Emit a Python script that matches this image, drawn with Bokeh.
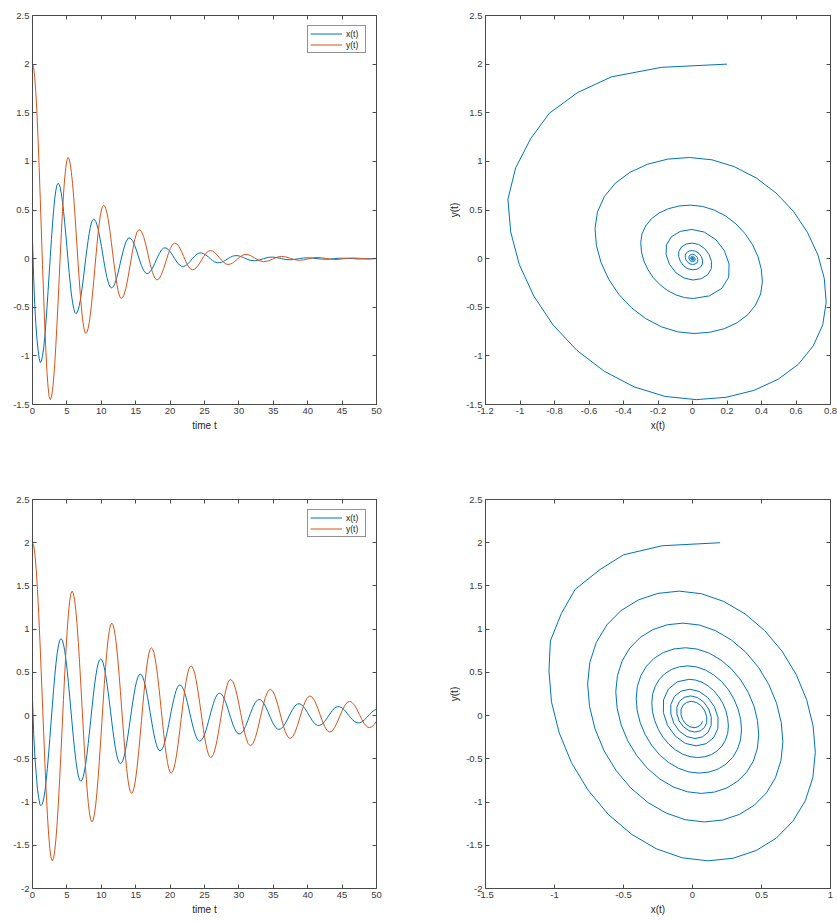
from bokeh.plotting import figure
from bokeh.models import Range1d, LinearAxis, FixedTicker, Legend, LegendItem
from bokeh.layouts import column, row
from bokeh.embed import file_html
from bokeh.resources import INLINE

# ---------------- data ----------------
# top pair of panels (strongly damped)
t_top = [0.00, 0.16, 0.32, 0.48, 0.65, 0.81, 0.97, 1.13, 1.29, 1.45, 1.62, 1.78, 1.94, 2.10, 2.26, 2.42,
         2.59, 2.75, 2.91, 3.07, 3.23, 3.39, 3.55, 3.72, 3.88, 4.04, 4.20, 4.36, 4.52, 4.68, 4.85, 5.01,
         5.17, 5.33, 5.49, 5.65, 5.82, 5.98, 6.14, 6.30, 6.46, 6.62, 6.79, 6.95, 7.11, 7.27, 7.43, 7.59,
         7.75, 7.92, 8.08, 8.24, 8.40, 8.56, 8.72, 8.89, 9.05, 9.21, 9.37, 9.53, 9.69, 9.85, 10.02, 10.18,
         10.34, 10.50, 10.66, 10.82, 10.99, 11.15, 11.31, 11.47, 11.63, 11.79, 11.96, 12.12, 12.28, 12.44,
         12.60, 12.76, 12.92,
         13.25, 13.57, 13.89, 14.22, 14.54, 14.86, 15.19, 15.51, 15.83, 16.16, 16.48, 16.80, 17.12, 17.45,
         17.77, 18.09, 18.42, 18.74, 19.06, 19.39, 19.71, 20.03, 20.36, 20.68, 21.00, 21.33, 21.65, 21.97,
         22.29, 22.62, 22.94, 23.26, 23.59, 23.91, 24.23, 24.56, 24.88, 25.20, 25.53, 25.85, 26.17, 26.49,
         26.82, 27.14, 27.46, 27.79, 28.11, 28.43, 28.76, 29.08, 29.40, 29.73, 30.05, 30.37, 30.70, 31.02,
         31.66, 32.31, 32.96, 33.60, 34.25, 34.90, 35.54, 36.19, 36.83, 37.48, 38.13, 38.77, 39.42, 40.06,
         40.71, 41.36, 42.00, 42.65, 43.30, 43.94, 44.59, 45.23, 45.88, 46.53, 47.17, 47.82, 48.47, 49.11,
         49.76, 50.00]
x_top = [0.20, -0.18, -0.47, -0.665, -0.83, -0.938, -1.025, -1.07, -1.054, -1.004, -0.920, -0.808, -0.669, -0.511, -0.338, -0.159,
         0.022, 0.195, 0.356, 0.497, 0.614, 0.700, 0.755, 0.775, 0.764, 0.727, 0.666, 0.585, 0.484, 0.369, 0.243, 0.113,
         -0.018, -0.144, -0.260, -0.363, -0.448, -0.511, -0.551, -0.565, -0.557, -0.530, -0.486, -0.427, -0.354, -0.271, -0.180, -0.086,
         0.009, 0.100, 0.185, 0.259, 0.320, 0.366, 0.395, 0.405, 0.399, 0.380, 0.348, 0.305, 0.252, 0.192, 0.125, 0.057,
         -0.012, -0.079, -0.140, -0.194, -0.238, -0.271, -0.293, -0.300, -0.296, -0.282, -0.258, -0.227, -0.188, -0.144, -0.096, -0.046,
         0.005,
         0.098, 0.170, 0.210,
         0.212, 0.185, 0.135, 0.068, -0.004, -0.071, -0.123, -0.151,
         -0.153, -0.133, -0.097, -0.049, 0.003, 0.051, 0.089, 0.109,
         0.110, 0.096, 0.070, 0.035, -0.002, -0.037, -0.064, -0.079,
         -0.080, -0.070, -0.051, -0.026, 0.002, 0.027, 0.047, 0.058,
         0.058, 0.051, 0.037, 0.019, -0.001, -0.020, -0.034, -0.042,
         -0.042, -0.037, -0.027, -0.014, 0.001, 0.014, 0.025, 0.030,
         0.031, 0.027, 0.019, 0.010, -0.001,
         -0.018, -0.022, -0.014, 0.000, 0.013, 0.016, 0.010, 0.000, -0.009, -0.012, -0.007, 0.000,
         0.007, 0.008, 0.005, 0.000, -0.005, -0.006, -0.004, 0.000, 0.004, 0.004, 0.003, 0.000,
         -0.003, -0.003, -0.002, 0.000, 0.002, 0.002]
y_top = [2.0, 1.967, 1.869, 1.709, 1.495, 1.233, 0.935, 0.611, 0.275, -0.061, -0.385, -0.683, -0.945, -1.159, -1.319, -1.417,
         -1.45, -1.426, -1.355, -1.240, -1.086, -0.897, -0.681, -0.448, -0.205, 0.038, 0.271, 0.487, 0.675, 0.830, 0.945, 1.016,
         1.04, 1.023, 0.971, 0.887, 0.775, 0.638, 0.481, 0.311, 0.135, -0.041, -0.211, -0.368, -0.505, -0.617, -0.701, -0.753,
         -0.77, -0.757, -0.720, -0.659, -0.577, -0.477, -0.363, -0.239, -0.110, 0.019, 0.143, 0.257, 0.357, 0.439, 0.500, 0.537,
         0.55, 0.541, 0.513, 0.469, 0.410, 0.337, 0.254, 0.164, 0.070, -0.024, -0.114, -0.197, -0.269, -0.329, -0.373, -0.401,
         -0.41,
         -0.383, -0.306, -0.191, -0.055, 0.081, 0.196, 0.273,
         0.30, 0.280, 0.224, 0.140, 0.040, -0.060, -0.144, -0.200,
         -0.22, -0.206, -0.164, -0.103, -0.030, 0.043, 0.104, 0.146,
         0.16, 0.150, 0.120, 0.075, 0.023, -0.030, -0.075, -0.105,
         -0.115, -0.108, -0.086, -0.054, -0.016, 0.022, 0.054, 0.075,
         0.083, 0.078, 0.062, 0.039, 0.012, -0.016, -0.039, -0.055,
         -0.060, -0.056, -0.045, -0.028, -0.008, 0.012, 0.029, 0.040,
         0.044,
         0.033, 0.006, -0.021, -0.032, -0.024, -0.005, 0.015, 0.023, 0.017, 0.003, -0.011,
         -0.017, -0.013, -0.003, 0.008, 0.012, 0.009, 0.002, -0.006, -0.009, -0.007, -0.001,
         0.004, 0.0065, 0.005, 0.001, -0.003, -0.0047, -0.001, 0.0]

# bottom pair of panels (weakly damped)
t_bot = [0.00, 0.18, 0.36, 0.54, 0.72, 0.90, 1.08, 1.26, 1.44, 1.62, 1.80, 1.98, 2.16, 2.34, 2.52, 2.70,
         2.88, 3.06, 3.24, 3.42, 3.60, 3.78, 3.96, 4.14, 4.32, 4.50, 4.68, 4.86, 5.04, 5.22, 5.40, 5.58,
         5.76, 5.94, 6.12, 6.30, 6.48, 6.66, 6.84, 7.02, 7.20, 7.38, 7.56, 7.74, 7.92, 8.10, 8.28, 8.46,
         8.64, 8.82, 9.00, 9.18, 9.36, 9.54, 9.72, 9.90, 10.08, 10.26, 10.44, 10.62, 10.80, 10.98, 11.16, 11.34,
         11.52, 11.70, 11.88, 12.06, 12.24, 12.42, 12.60, 12.78, 12.96, 13.14, 13.32, 13.50, 13.68, 13.86, 14.04, 14.22,
         14.40, 14.58, 14.76, 14.94, 15.12, 15.30, 15.48, 15.66, 15.84, 16.02, 16.20, 16.38, 16.56, 16.74, 16.92, 17.10,
         17.28, 17.46, 17.64, 17.82, 18.00, 18.18, 18.36, 18.54, 18.72, 18.90, 19.08, 19.26, 19.44, 19.62, 19.80, 19.98,
         20.16, 20.34, 20.52, 20.70, 20.88, 21.06, 21.24, 21.42, 21.60, 21.78, 21.96, 22.14, 22.32, 22.50, 22.68, 22.86,
         23.04, 23.22, 23.40, 23.58, 23.76, 23.94, 24.12, 24.30, 24.48, 24.66, 24.84, 25.02, 25.20, 25.38, 25.56, 25.74,
         25.92, 26.10, 26.28, 26.46, 26.64, 26.82, 27.00, 27.18, 27.36, 27.54, 27.72, 27.90, 28.08, 28.26, 28.44, 28.62,
         28.80,
         29.16, 29.52, 29.88, 30.24, 30.60, 30.96, 31.32, 31.68, 32.04, 32.40, 32.76, 33.12, 33.48, 33.84, 34.20,
         34.56, 34.92, 35.28, 35.64, 36.00, 36.36, 36.72, 37.08, 37.44, 37.80, 38.16, 38.52, 38.88, 39.24, 39.60,
         39.96, 40.32, 40.68, 41.04, 41.40, 41.76, 42.12, 42.48, 42.84, 43.20, 43.56, 43.92, 44.28, 44.64, 45.00,
         45.36, 45.72, 46.08, 46.44, 46.80, 47.16, 47.52, 47.88, 48.24, 48.60, 48.96, 49.32, 49.68, 50.00]
x_bot = [0.20, -0.22, -0.50, -0.67, -0.85, -0.95, -1.03, -1.04, -1.022, -0.966, -0.877, -0.757, -0.611, -0.444, -0.263, -0.075,
         0.113, 0.294, 0.461, 0.607, 0.727, 0.817, 0.872, 0.89, 0.874, 0.827, 0.751, 0.648, 0.523, 0.381, 0.226, 0.065,
         -0.096, -0.251, -0.393, -0.518, -0.621, -0.697, -0.744, -0.76, -0.746, -0.706, -0.641, -0.553, -0.446, -0.323, -0.190, -0.053,
         0.085, 0.218, 0.341, 0.448, 0.536, 0.601, 0.641, 0.655, 0.643, 0.609, 0.553, 0.478, 0.386, 0.281, 0.168, 0.050,
         -0.069, -0.182, -0.287, -0.379, -0.454, -0.510, -0.544, -0.556, -0.546, -0.517, -0.469, -0.404, -0.326, -0.236, -0.139, -0.038,
         0.063, 0.160, 0.250, 0.328, 0.393, 0.441, 0.470, 0.48, 0.471, 0.446, 0.405, 0.350, 0.283, 0.206, 0.123, 0.036,
         -0.051, -0.134, -0.211, -0.278, -0.333, -0.374, -0.400, -0.408, -0.401, -0.379, -0.344, -0.296, -0.239, -0.173, -0.101, -0.027,
         0.048, 0.120, 0.186, 0.243, 0.291, 0.326, 0.348, 0.355, 0.349, 0.330, 0.300, 0.260, 0.211, 0.154, 0.093, 0.030,
         -0.033, -0.094, -0.151, -0.200, -0.240, -0.270, -0.289, -0.295, -0.290, -0.274, -0.248, -0.214, -0.172, -0.124, -0.072, -0.018,
         0.037, 0.089, 0.137, 0.179, 0.213, 0.239, 0.255, 0.26, 0.255, 0.242, 0.220, 0.190, 0.154, 0.113, 0.069, 0.023,
         -0.024,
         -0.110, -0.175, -0.210,
         -0.211, -0.181, -0.125, -0.053, 0.026, 0.098, 0.154, 0.184,
         0.185, 0.159, 0.111, 0.048, -0.020, -0.083, -0.131, -0.157,
         -0.157, -0.135, -0.094, -0.040, 0.018, 0.072, 0.113, 0.135,
         0.136, 0.117, 0.082, 0.036, -0.013, -0.059, -0.094, -0.113,
         -0.113, -0.097, -0.066, -0.026, 0.017, 0.056, 0.087, 0.103,
         0.103, 0.089, 0.063, 0.029, -0.009, -0.043, -0.069, -0.083,
         -0.083, -0.072, -0.049, -0.021, 0.011, 0.039, 0.062, 0.073]
y_bot = [2.0, 1.965, 1.860, 1.690, 1.461, 1.182, 0.864, 0.519, 0.160, -0.199, -0.544, -0.862, -1.141, -1.370, -1.540, -1.645,
         -1.68, -1.650, -1.561, -1.417, -1.223, -0.987, -0.717, -0.424, -0.120, 0.184, 0.477, 0.747, 0.983, 1.177, 1.321, 1.410,
         1.44, 1.414, 1.338, 1.215, 1.049, 0.847, 0.616, 0.365, 0.105, -0.155, -0.406, -0.637, -0.839, -1.005, -1.128, -1.204,
         -1.23, -1.208, -1.142, -1.036, -0.893, -0.719, -0.520, -0.304, -0.080, 0.144, 0.360, 0.559, 0.733, 0.876, 0.982, 1.048,
         1.07, 1.051, 0.995, 0.904, 0.782, 0.632, 0.462, 0.277, 0.085, -0.107, -0.292, -0.462, -0.612, -0.734, -0.825, -0.881,
         -0.90, -0.884, -0.836, -0.758, -0.653, -0.526, -0.380, -0.222, -0.058, 0.107, 0.265, 0.411, 0.538, 0.643, 0.721, 0.769,
         0.785, 0.771, 0.730, 0.663, 0.573, 0.463, 0.337, 0.201, 0.060, -0.081, -0.217, -0.343, -0.453, -0.543, -0.610, -0.651,
         -0.665, -0.653, -0.618, -0.560, -0.484, -0.389, -0.282, -0.166, -0.045, 0.076, 0.192, 0.300, 0.394, 0.470, 0.528, 0.563,
         0.575, 0.565, 0.535, 0.486, 0.420, 0.339, 0.248, 0.148, 0.045, -0.058, -0.158, -0.250, -0.330, -0.396, -0.445, -0.475,
         -0.485, -0.476, -0.451, -0.409, -0.353, -0.284, -0.206, -0.121, -0.033, 0.056, 0.141, 0.219, 0.288, 0.344, 0.386, 0.411,
         0.42,
         0.391, 0.307, 0.182, 0.035, -0.112, -0.237, -0.321,
         -0.35, -0.325, -0.254, -0.148, -0.023, 0.103, 0.209, 0.280,
         0.305, 0.283, 0.222, 0.129, 0.020, -0.089, -0.182, -0.243,
         -0.265, -0.246, -0.193, -0.113, -0.019, 0.076, 0.156, 0.209,
         0.228, 0.212, 0.167, 0.099, 0.019, -0.061, -0.129, -0.174,
         -0.19, -0.177, -0.138, -0.080, -0.013, 0.055, 0.113, 0.152,
         0.165, 0.153, 0.120, 0.071, 0.013, -0.046, -0.095, -0.128,
         -0.14, -0.130, -0.102, -0.065]

# tick values
time_ticks = [0, 5, 10, 15, 20, 25, 30, 35, 40, 45, 50]
top_y_ticks = [-1.5, -1.0, -0.5, 0.0, 0.5, 1.0, 1.5, 2.0, 2.5]
top_phase_x_ticks = [-1.2, -1.0, -0.8, -0.6, -0.4, -0.2, 0.0, 0.2, 0.4, 0.6, 0.8]
bot_y_ticks = [-2.0, -1.5, -1.0, -0.5, 0.0, 0.5, 1.0, 1.5, 2.0, 2.5]
bot_phase_x_ticks = [-1.5, -1.0, -0.5, 0.0, 0.5, 1.0]

legend_labels = ["x(t)", "y(t)"]

assert len(t_top) == len(x_top) == len(y_top), (len(t_top), len(x_top), len(y_top))
assert len(t_bot) == len(x_bot) == len(y_bot), (len(t_bot), len(x_bot), len(y_bot))

# ---------------- styling ----------------
BLUE = "#0072BD"
ORANGE = "#D95319"
AXC = "#4a4a4a"
TXT = "#3a3a3a"
FONT = "Liberation Sans"


def fmt(v):
    s = "%.1f" % v
    if s.endswith(".0"):
        s = s[:-2]
    if s == "-0":
        s = "0"
    return s


def make_fig(w, h, left, right, top, bottom, xr, yr, xticks, yticks, xlabel=None, ylabel=None):
    p = figure(width=w, height=h, x_range=Range1d(*xr), y_range=Range1d(*yr),
               output_backend="svg", toolbar_location=None,
               x_axis_location=None, y_axis_location=None,
               min_border_left=left, min_border_right=right,
               min_border_top=top, min_border_bottom=bottom)
    p.grid.visible = False
    p.outline_line_color = None
    p.background_fill_color = "white"
    p.border_fill_color = "white"
    for loc, ticks, label, show in [("below", xticks, xlabel, True),
                                    ("left", yticks, ylabel, True),
                                    ("above", xticks, None, False),
                                    ("right", yticks, None, False)]:
        ax = LinearAxis(ticker=FixedTicker(ticks=ticks, minor_ticks=[]))
        ax.major_label_overrides = {v: (fmt(v) if show else "") for v in ticks}
        ax.axis_line_color = AXC
        ax.axis_line_width = 1
        ax.major_tick_line_color = AXC
        ax.major_tick_in = 4
        ax.major_tick_out = 0
        ax.minor_tick_line_color = None
        ax.major_label_text_font = FONT
        ax.major_label_text_color = TXT
        if show:
            ax.major_label_text_font_size = "9.5px"
            ax.major_label_standoff = 3
        else:
            ax.major_label_text_font_size = "1px"
            ax.major_label_standoff = 0
        if label:
            ax.axis_label = label
            ax.axis_label_text_font = FONT
            ax.axis_label_text_font_size = "10px"
            ax.axis_label_text_font_style = "normal"
            ax.axis_label_text_color = "#262626"
            ax.axis_label_standoff = 3
        p.add_layout(ax, loc)
    return p


def add_legend(p, r1, r2):
    leg = Legend(items=[LegendItem(label=legend_labels[0], renderers=[r1]),
                        LegendItem(label=legend_labels[1], renderers=[r2])],
                 location="top_right", margin=10, padding=2, spacing=0,
                 glyph_width=32, glyph_height=11, label_height=11, label_width=17,
                 label_standoff=4, label_text_font=FONT, label_text_font_size="8.5px",
                 label_text_color="#222222",
                 border_line_color="#262626", border_line_width=1,
                 background_fill_color="white", background_fill_alpha=1)
    p.add_layout(leg)


# top-left: time series
p1 = make_fig(426, 460, 32, 50, 15, 56, (0, 50), (-1.5, 2.5), time_ticks, top_y_ticks, xlabel="time t")
a = p1.line(t_top, x_top, line_color=BLUE, line_width=1)
b = p1.line(t_top, y_top, line_color=ORANGE, line_width=1)
add_legend(p1, a, b)

# top-right: phase plot
p2 = make_fig(411, 460, 59, 7, 15, 56, (-1.2, 0.8), (-1.5, 2.5), top_phase_x_ticks, top_y_ticks,
              xlabel="x(t)", ylabel="y(t)")
p2.line(x_top, y_top, line_color=BLUE, line_width=1)

# bottom-left: time series
p3 = make_fig(426, 461, 32, 50, 39, 33, (0, 50), (-2, 2.5), time_ticks, bot_y_ticks, xlabel="time t")
c = p3.line(t_bot, x_bot, line_color=BLUE, line_width=1)
d = p3.line(t_bot, y_bot, line_color=ORANGE, line_width=1)
add_legend(p3, c, d)

# bottom-right: phase plot
p4 = make_fig(411, 461, 59, 7, 39, 33, (-1.5, 1.0), (-2, 2.5), bot_phase_x_ticks, bot_y_ticks,
              xlabel="x(t)", ylabel="y(t)")
p4.line(x_bot, y_bot, line_color=BLUE, line_width=1)

layout = column(row(p1, p2), row(p3, p4))
open("out.html", "w").write(file_html(layout, INLINE))
